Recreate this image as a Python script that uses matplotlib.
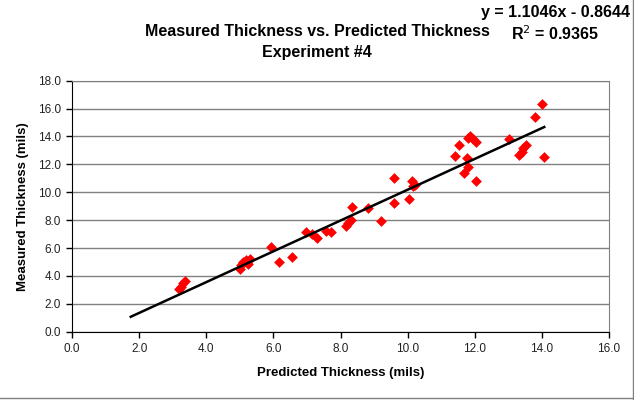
import matplotlib
matplotlib.use('Agg')
import matplotlib.pyplot as plt
from matplotlib.lines import Line2D
import numpy as np

plt.rcParams['font.family'] = ['Liberation Sans', 'DejaVu Sans']

# data
predicted = [3.20, 3.24, 3.32, 3.37,
             5.00, 5.02, 5.08, 5.18, 5.25, 5.30,
             5.92, 6.18, 6.56,
             6.96, 7.16, 7.29, 7.56, 7.72,
             8.16, 8.22, 8.30, 8.33, 8.81, 9.21,
             9.60, 9.60, 10.05, 10.12, 10.15, 10.22,
             11.41, 11.54, 11.69, 11.76, 11.79, 11.79, 11.86, 11.96, 12.04, 12.04,
             13.02, 13.32, 13.42, 13.45, 13.53, 13.78, 14.01, 14.07]
measured = [3.04, 3.23, 3.47, 3.66,
            4.50, 4.80, 5.00, 5.14, 4.86, 5.20,
            6.05, 5.02, 5.33,
            7.13, 6.99, 6.72, 7.22, 7.13,
            7.55, 7.80, 8.00, 8.97, 8.90, 7.94,
            11.05, 9.21, 9.52, 10.83, 10.45, 10.50,
            12.60, 13.39, 11.41, 12.44, 11.84, 13.87, 14.04, 13.80, 13.59, 10.83,
            13.82, 12.68, 12.87, 13.20, 13.39, 15.38, 16.31, 12.51]

slope = 1.1046
intercept = -0.8644
r2 = 0.9365
trend_x = [1.75, 14.07]

fig = plt.figure(figsize=(6.34, 4.0), dpi=100)
ax = fig.add_axes([0.1136, 0.1708, 0.8470, 0.6275])

ax.scatter(predicted, measured, marker='D', s=30, color='#ff0000', zorder=3, linewidths=0)
tx = np.array(trend_x)
ax.plot(tx, slope * tx + intercept, color='black', linewidth=1.8, zorder=4)

ax.set_xlim(0, 16)
ax.set_ylim(0, 18)
ax.set_xticks(np.arange(0, 16.1, 2))
ax.set_yticks(np.arange(0, 18.1, 2))
ax.set_xticklabels(['%.1f' % v for v in np.arange(0, 16.1, 2)], fontsize=8.5)
ax.set_yticklabels(['%.1f' % v for v in np.arange(0, 18.1, 2)], fontsize=8.5)
ax.yaxis.grid(True, color='#808080', linewidth=1)
ax.set_axisbelow(True)
for s in ['top', 'right']:
    ax.spines[s].set_color('#808080')
for s in ['left', 'bottom']:
    ax.spines[s].set_color('black')
ax.tick_params(direction='out', length=4, width=1, pad=4, colors='black', labelcolor='#222222')

ax.set_xlabel('Predicted Thickness (mils)', fontsize=9.5, fontweight='bold', labelpad=9)
ax.set_ylabel('Measured Thickness (mils)', fontsize=9.5, fontweight='bold', labelpad=6)

fig.text(0.50, 0.922, 'Measured Thickness vs. Predicted Thickness', ha='center', va='center',
         fontsize=11.5, fontweight='bold')
fig.text(0.50, 0.869, 'Experiment #4', ha='center', va='center', fontsize=11.5, fontweight='bold')
fig.text(0.994, 0.968, 'y = %.4fx - %.4f' % (slope, -intercept), ha='right', va='center',
         fontsize=11.5, fontweight='bold')
fig.text(0.875, 0.915, 'R$^2$ = %.4f' % r2, ha='center', va='center', fontsize=11.5, fontweight='bold')

# chart frame visible on the right and bottom edges
fig.add_artist(Line2D([0.9985, 0.9985], [0.0, 1.0], transform=fig.transFigure, color='#808080', linewidth=1))
fig.add_artist(Line2D([0.0, 1.0], [0.004, 0.004], transform=fig.transFigure, color='#808080', linewidth=1))

fig.savefig('out.png', dpi=100)
